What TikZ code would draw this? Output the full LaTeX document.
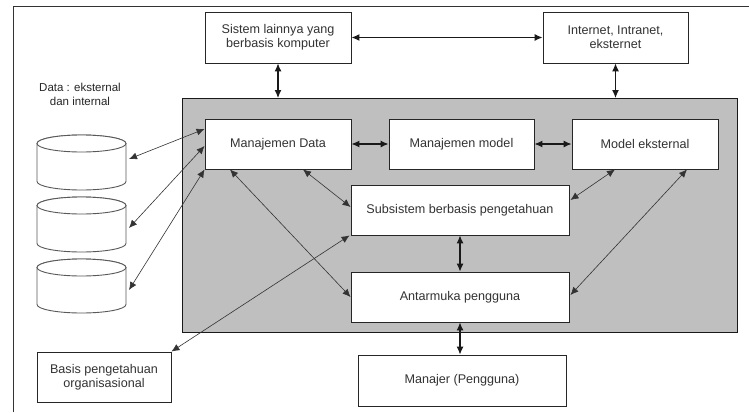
\documentclass[tikz,border=0pt]{standalone}
\usepackage{fontspec}
\setmainfont{Liberation Sans}
\usetikzlibrary{arrows.meta}
\begin{document}
\begin{tikzpicture}[x=1pt,y=-1pt,
  box/.style={draw=black!85,line width=0.9pt,fill=white,inner sep=0pt,align=center,
    font=\fontsize{12.6}{14}\selectfont,text=black!80},
  dbl/.style={{Latex[length=8pt,width=7pt]}-{Latex[length=8pt,width=7pt]},line width=1.1pt,draw=black!90},
  thin/.style={{Latex[length=8pt,width=7pt]}-{Latex[length=8pt,width=7pt]},line width=0.6pt,draw=black!80},
  cyl/.style={draw=black!65,line width=0.9pt,fill=white}]
\useasboundingbox (0,0) rectangle (749,412);
\fill[white] (0,0) rectangle (749,412);
% outer frame
\draw[black!80,line width=0.9pt] (13,412) -- (13,6) -- (749,6);
% gray system
\draw[fill=black!25,draw=black!90,line width=0.9pt] (182,98) rectangle (737,332);
% boxes
\node[box,minimum width=146pt,minimum height=51pt] (sis) at (278,37.5) {Sistem lainnya yang\\berbasis komputer};
\node[box,minimum width=145pt,minimum height=51pt] (inet) at (615.5,37.5) {Internet, Intranet,\\eksternet};
\node[box,minimum width=146pt,minimum height=50pt] (md) at (278,144) {Manajemen Data};
\node[box,minimum width=145pt,minimum height=50pt] (mm) at (461.5,144) {Manajemen model};
\node[box,minimum width=146pt,minimum height=50pt] (me) at (645,144) {Model eksternal};
\node[box,minimum width=218pt,minimum height=50pt] (sub) at (460,210) {Subsistem berbasis pengetahuan};
\node[box,minimum width=218pt,minimum height=50pt] (ant) at (460,297) {Antarmuka pengguna};
\node[box,minimum width=208pt,minimum height=51pt] (man) at (462,380.5) {Manajer (Pengguna)};
\node[box,minimum width=134pt,minimum height=50pt] (bas) at (104,377) {Basis pengetahuan\\organisasional};
\node[align=center,font=\fontsize{11.5}{14}\selectfont,text=black!85] (lbl) at (80,94.5) {Data : eksternal\\dan internal};
% cylinders
\foreach \n/\t/\b in {c1/143.5/190, c2/205.5/252, c3/267.5/313}{
  \draw[cyl] (37,\t) -- (37,\b-8.5) arc[start angle=180,end angle=0,x radius=44.5,y radius=8.5] -- (126,\t) arc[start angle=0,end angle=-180,x radius=44.5,y radius=8.5] -- cycle;
  \draw[cyl] (81.5,\t) ellipse[x radius=44.5,y radius=8.5];
}
\coordinate (c1e) at (129,159);
\coordinate (c2e) at (129,228);
\coordinate (c3e) at (129,290);
% connectors
\draw[dbl] (sis.east) -- (inet.west);
\draw[dbl] (sis.south) -- (sis.south |- 0,98);
\draw[dbl] (inet.south) -- (inet.south |- 0,98);
\draw[dbl] (md.east) -- (mm.west);
\draw[dbl] (mm.east) -- (me.west);
\draw[dbl] (sub.south) -- (sub.south |- ant.north);
\draw[dbl] (ant.south) -- (ant.south |- man.north);
\draw[thin] (c1e) -- ([yshift=15pt]md.west);
\draw[thin] (c2e) -- ([yshift=-2pt]md.west);
\draw[thin] (c3e) -- (md.south west);
\draw[thin] ([xshift=25pt]md.south) -- ([yshift=3pt]sub.west);
\draw[thin] ([xshift=-48pt]md.south) -- (ant.west);
\draw[thin] (bas.north east) -- ([xshift=-1pt]sub.south west);
\draw[thin] ([xshift=-30pt]me.south) -- ([xshift=1pt,yshift=10pt]sub.east);
\draw[thin] ([xshift=42pt]me.south) -- ([xshift=1pt,yshift=2pt]ant.east);
\end{tikzpicture}
\end{document}
